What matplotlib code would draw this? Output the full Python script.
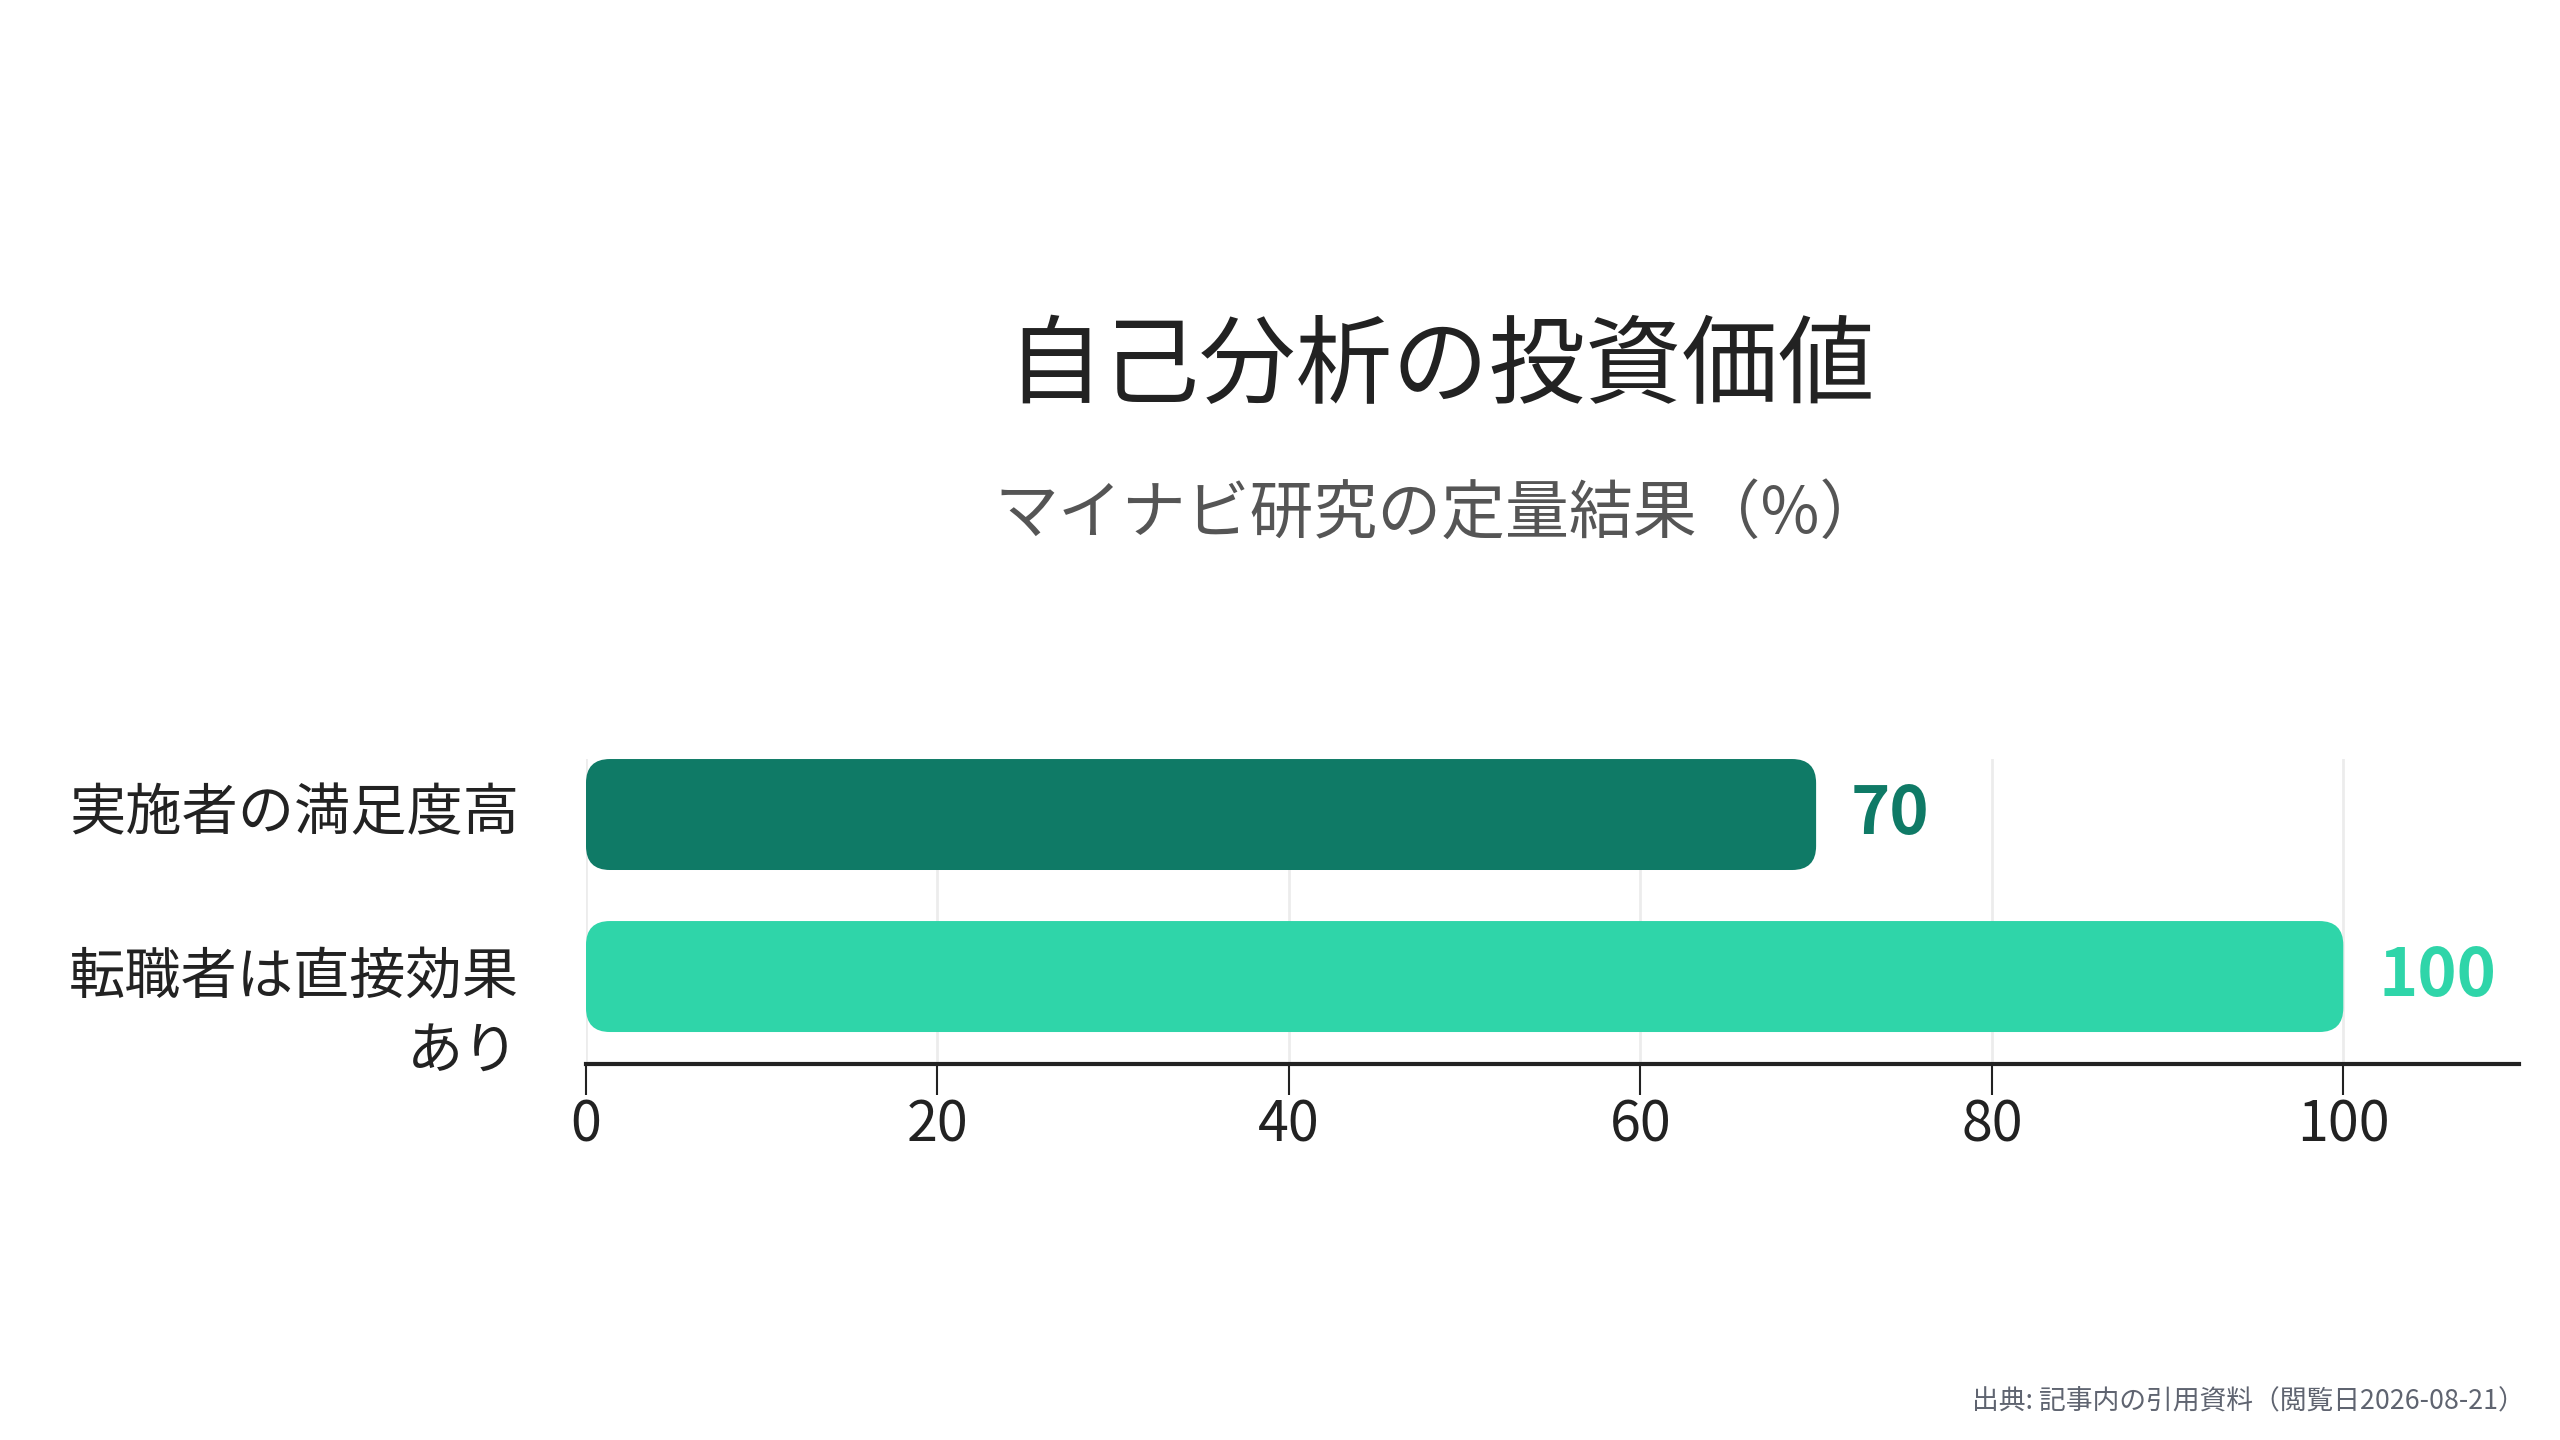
import numpy as np
import matplotlib
matplotlib.use("Agg")
import matplotlib.pyplot as plt
import matplotlib.transforms as mtransforms
from matplotlib.patches import FancyBboxPatch

plt.rcParams['font.family'] = ['Noto Sans CJK JP', 'DejaVu Sans']

# データ
categories = ['実施者の満足度高', '転職者は直接効果\nあり']
values = [70, 100]
colors = ['#0f7a66', '#2fd5a9']
xticks = [0, 20, 40, 60, 80, 100]

title = '自己分析の投資価値'
subtitle = 'マイナビ研究の定量結果（%）'
source = '出典: 記事内の引用資料（閲覧日2026-08-21）'

W, H = 2560, 1440
fig = plt.figure(figsize=(W / 100, H / 100), dpi=100)
ax_box = [0.2289, 0.2611, 0.7551, 0.2118]
ax = fig.add_axes(ax_box)

bar_h = 0.685
y = np.arange(len(categories))
xmax = 110
y_lo, y_hi = 1.54, -0.3425
ax.set_xlim(0, xmax)
ax.set_ylim(y_lo, y_hi)

# pixels per data unit (for rounded corners)
xpx = ax_box[2] * W / xmax
ypx = ax_box[3] * H / (y_lo - y_hi)
r_px = 24

bars = ax.barh(y, values, height=bar_h, color=colors, zorder=2)
for b, c in zip(bars, colors):
    b.set_visible(False)
    p = FancyBboxPatch((b.get_x(), b.get_y()), b.get_width(), b.get_height(),
                       boxstyle=f"round,pad=0,rounding_size={r_px / xpx}",
                       mutation_aspect=xpx / ypx,
                       facecolor=c, edgecolor='none', zorder=2)
    ax.add_patch(p)

# value labels
for yi, v, c in zip(y, values, colors):
    ax.annotate(str(v), xy=(v, yi), xytext=(25, 0), textcoords='offset points',
                ha='left', va='center', fontsize=48, fontweight='bold', color=c)

# category labels (first line centred on bar)
lab_tr = mtransforms.offset_copy(ax.get_yaxis_transform(), fig=fig, x=-67, y=0, units='dots')
line_px = 77
for yi, lab in zip(y, categories):
    n = lab.count('\n') + 1
    off = (n - 1) / 2 * line_px / ypx
    ax.text(0, yi + off, lab, transform=lab_tr, ha='right', va='center',
            fontsize=40.5, color='#222222', linespacing=1.36, multialignment='right')

ax.set_xticks(xticks)
ax.set_yticks([])
ax.xaxis.grid(True, color='#ececec', lw=2, zorder=0)
ax.set_axisbelow(True)
for s in ['top', 'right', 'left']:
    ax.spines[s].set_visible(False)
ax.spines['bottom'].set_color('#222222')
ax.spines['bottom'].set_linewidth(3)
ax.tick_params(axis='x', length=22, width=1.5, color='#222222',
               labelsize=40, labelcolor='#222222', pad=2)

fig.text(1441 / W, 1 - 368 / H, title, ha='center', va='center',
         fontsize=69.5, color='#222222')
fig.text(1439 / W, 1 - 515 / H, subtitle, ha='center', va='center',
         fontsize=46, color='#555555')
fig.text(2525 / W, 1 - 1401 / H, source, ha='right', va='center',
         fontsize=19.3, color='#5f6470')

fig.savefig('out.png', dpi=100, facecolor='white')
